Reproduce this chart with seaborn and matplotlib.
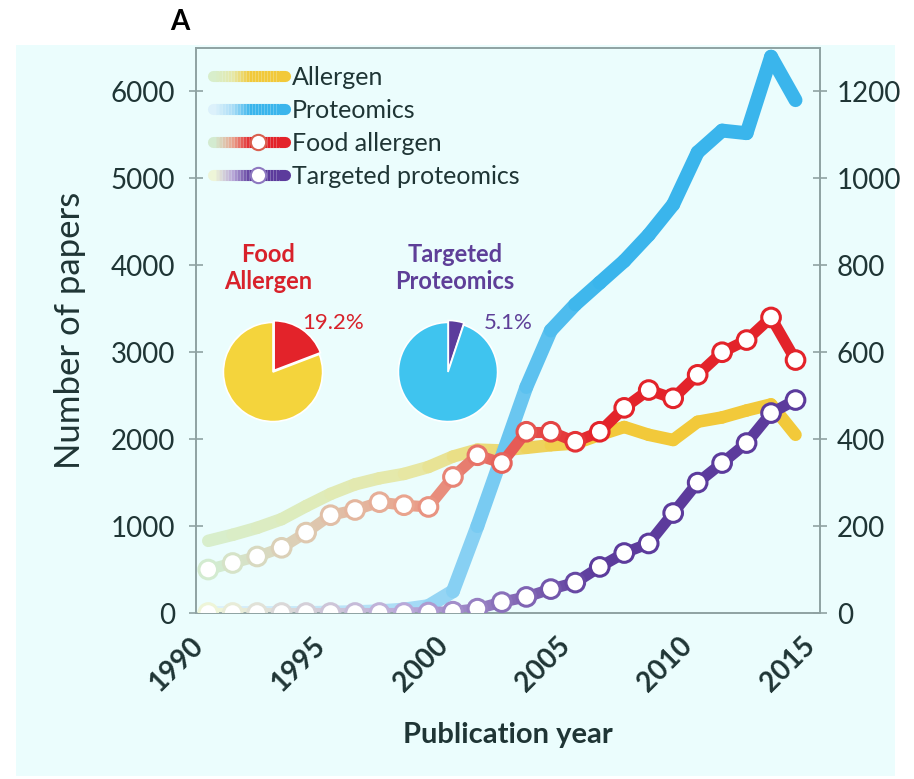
import numpy as np
import pandas as pd
import matplotlib
matplotlib.use('Agg')
import matplotlib.pyplot as plt
import seaborn as sns
from matplotlib.colors import LinearSegmentedColormap
from matplotlib.lines import Line2D
from matplotlib.legend_handler import HandlerBase
from matplotlib.patches import Rectangle

# data
years = list(range(1990, 2015))
allergen = [830, 900, 980, 1080, 1230, 1370, 1480, 1550, 1600, 1680, 1800, 1880, 1870,
            1900, 1930, 1950, 2050, 2140, 2050, 1990, 2200, 2250, 2330, 2400, 2050]
proteomics = [0, 0, 0, 0, 0, 5, 10, 20, 40, 80, 250, 1000, 1800, 2600, 3250, 3550, 3800,
              4050, 4350, 4700, 5300, 5550, 5520, 6400, 5900]
food_allergen = [100, 115, 130, 150, 185, 225, 237, 255, 248, 244, 313, 363, 345, 417, 417,
                 394, 417, 472, 513, 494, 548, 600, 628, 680, 582]
targeted = [0, 0, 0, 0, 0, 0, 0, 0, 0, 1, 3, 10, 25, 37, 55, 70, 106, 138, 160, 230, 300,
            345, 391, 460, 490]
series_names = ['Allergen', 'Proteomics', 'Food allergen', 'Targeted proteomics']
food_share = [19.2, 80.8]
targeted_share = [5.1, 94.9]
left_ticks = [0, 1000, 2000, 3000, 4000, 5000, 6000]
right_ticks = [0, 200, 400, 600, 800, 1000, 1200]
x_ticks = [1990, 1995, 2000, 2005, 2010, 2015]

BG = '#ebfdfd'
TXT = '#1f3535'
GRID = '#8fa2a2'
RED = '#e3232a'
PURPLE = '#5c3b9c'
YELLOW = '#f2c93a'
BLUE = '#3ab5ec'

cm_allergen = LinearSegmentedColormap.from_list('a', ['#d8eecb', '#e6e8a8', YELLOW, YELLOW])
cm_prot = LinearSegmentedColormap.from_list('p', ['#dcf1fb', '#a9dcf6', BLUE, BLUE])
cm_food = LinearSegmentedColormap.from_list('f', ['#d3ebd0', '#e9a48e', RED, RED])
cm_targ = LinearSegmentedColormap.from_list('t', ['#eef5d8', '#b9a8d8', PURPLE, PURPLE])

sns.set_theme(style='white')
plt.rcParams['font.family'] = ['Lato', 'DejaVu Sans']

fig = plt.figure(figsize=(9.14, 7.79), dpi=100, facecolor='white')
fig.patches.append(Rectangle((16 / 914, 3 / 779), 879 / 914, 731 / 779,
                             transform=fig.transFigure, facecolor=BG, edgecolor='none', zorder=-10))

ax = fig.add_axes([196 / 914, 166 / 779, 624 / 914, 565 / 779])
ax.set_facecolor('none')
ax2 = ax.twinx()


def grad_line(axis, x, y, cmap, lw):
    n = len(x) - 1
    rows = []
    for i in range(n):
        rows.append(('s%02d' % i, x[i], y[i]))
        rows.append(('s%02d' % i, x[i + 1], y[i + 1]))
    df = pd.DataFrame(rows, columns=['seg', 'year', 'value'])
    pal = {'s%02d' % i: cmap(i / (n - 1)) for i in range(n)}
    sns.lineplot(data=df, x='year', y='value', hue='seg', palette=pal, linewidth=lw,
                 legend=False, estimator=None, sort=False, ax=axis, solid_capstyle='round')
    return [cmap(i / n) for i in range(n + 1)]


grad_line(ax, years, allergen, cm_allergen, 9)
grad_line(ax, years, proteomics, cm_prot, 10)
fc = grad_line(ax2, years, food_allergen, cm_food, 8)
sns.scatterplot(x=years, y=food_allergen, ax=ax2, color='white', edgecolor=fc,
                s=180, linewidth=2.2, zorder=5)
tc = grad_line(ax2, years, targeted, cm_targ, 8)
sns.scatterplot(x=years, y=targeted, ax=ax2, color='white', edgecolor=tc,
                s=180, linewidth=2.2, zorder=5)

ax.set_xlim(1989.5, 2015)
ax.set_ylim(0, 6500)
ax2.set_ylim(0, 1300)
ax.set_xticks(x_ticks)
ax.set_yticks(left_ticks)
ax2.set_yticks(right_ticks)
ax.set_xticklabels([str(t) for t in x_ticks], rotation=45, ha='right',
                   fontweight='bold', color=TXT)
ax.set_xlabel('Publication year', fontsize=21, fontweight='bold', color=TXT, labelpad=18)
ax.set_ylabel('Number of papers', fontsize=25, color=TXT, labelpad=18)
ax2.set_ylabel('')
for a in (ax, ax2):
    a.tick_params(direction='inout', length=10, width=1.2, color=GRID,
                  labelsize=20, labelcolor=TXT)
    for s in a.spines.values():
        s.set_color(GRID)
        s.set_linewidth(1.2)
ax.tick_params(axis='y', pad=10)
ax.tick_params(axis='x', pad=9, labelsize=20)
ax2.tick_params(axis='y', pad=7)


class GradHandler(HandlerBase):
    def __init__(self, cmap, marker_edge=None):
        super().__init__()
        self.cmap = cmap
        self.marker_edge = marker_edge

    def create_artists(self, legend, orig_handle, xdescent, ydescent, width, height,
                       fontsize, trans):
        x0 = -xdescent + 4
        x1 = width - xdescent - 4
        xs = np.linspace(x0, x1, 25)
        y = height / 2 - ydescent
        arts = []
        n = len(xs) - 1
        for i in range(n):
            col = self.cmap(min(1.0, 1.3 * i / (n - 1)))
            cap = 'round' if i in (0, n - 1) else 'butt'
            arts.append(Line2D([xs[i], xs[i + 1]], [y, y], color=col, linewidth=8,
                               solid_capstyle=cap, transform=trans))
        if self.marker_edge is not None:
            xm = x0 + 0.62 * (x1 - x0)
            arts.append(Line2D([xm], [y], marker='o', markersize=11, markerfacecolor='white',
                               markeredgecolor=self.marker_edge, markeredgewidth=1.5,
                               linestyle='none', transform=trans))
        return arts


handles = [Line2D([], []) for _ in series_names]
hmap = {handles[0]: GradHandler(cm_allergen), handles[1]: GradHandler(cm_prot),
        handles[2]: GradHandler(cm_food, '#d9604f'), handles[3]: GradHandler(cm_targ, '#8d78c0')}
leg = ax2.legend(handles, series_names, handler_map=hmap, loc='upper left',
                 bbox_to_anchor=(-0.005, 0.995), frameon=False, fontsize=18,
                 handlelength=3.3, handletextpad=0.05, labelspacing=0.4, borderaxespad=0.2)
for t in leg.get_texts():
    t.set_color(TXT)

# inset pies
pax1 = fig.add_axes([211 / 914, 345 / 779, 124 / 914, 124 / 779])
pax1.pie(food_share, colors=[RED, '#f4d43c'], startangle=90, counterclock=False,
         explode=[0.04, 0], wedgeprops=dict(edgecolor='white', linewidth=1.2))
pax1.set_aspect('equal')
pax2 = fig.add_axes([386 / 914, 345 / 779, 124 / 914, 124 / 779])
pax2.pie(targeted_share, colors=[PURPLE, '#3fc4ef'], startangle=90, counterclock=False,
         explode=[0.04, 0], wedgeprops=dict(edgecolor='white', linewidth=1.2))
pax2.set_aspect('equal')

fig.text(268 / 914, 1 - 268 / 779, 'Food\nAllergen', color='#d8222b', fontsize=17,
         fontweight='bold', ha='center', va='center', linespacing=1.25)
fig.text(455 / 914, 1 - 268 / 779, 'Targeted\nProteomics', color='#5e3f98', fontsize=17,
         fontweight='bold', ha='center', va='center', linespacing=1.25)
fig.text(333 / 914, 1 - 323 / 779, '19.2%', color='#d8222b', fontsize=16,
         ha='center', va='center')
fig.text(508 / 914, 1 - 323 / 779, '5.1%', color='#5e3f98', fontsize=16,
         ha='center', va='center')
fig.text(180 / 914, 1 - 22 / 779, 'A', color='black', fontsize=20, fontweight='bold',
         ha='center', va='center')

fig.savefig('out.png', dpi=100, facecolor='white')
